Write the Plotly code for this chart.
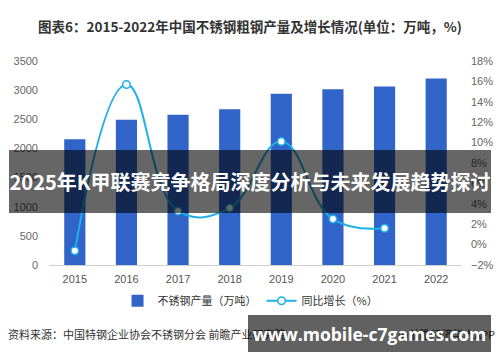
import plotly.graph_objects as go

years = ["2015", "2016", "2017", "2018", "2019", "2020", "2021", "2022"]
output = [2156, 2494, 2577, 2671, 2940, 3014, 3063, 3198]
growth_years = ["2015", "2016", "2017", "2018", "2019", "2020", "2021"]
growth = [-0.6, 15.7, 3.3, 3.6, 10.1, 2.5, 1.6]

title_text = "图表6：2015-2022年中国不锈钢粗钢产量及增长情况(单位：万吨，%)"
source_left = "资料来源：中国特钢企业协会不锈钢分会 前瞻产业研究院"
source_right = "@前瞻经济学人APP"
banner_text = "2025年K甲联赛竞争格局深度分析与未来发展趋势探讨"
url_text = "www.mobile-c7games.com"

CJK = "Noto Sans CJK SC, Liberation Sans, sans-serif"
TICK = "Liberation Sans, Arial, sans-serif"

fig = go.Figure()
fig.add_trace(go.Bar(
    x=years, y=output, name="不锈钢产量（万吨）",
    marker=dict(color="#3164c8", line=dict(width=0)),
    yaxis="y",
))
fig.add_trace(go.Scatter(
    x=growth_years, y=growth, name="同比增长（%）",
    mode="lines+markers",
    line=dict(color="#1eb0e6", width=2, shape="spline", smoothing=1.2),
    marker=dict(size=7.5, color="white", line=dict(color="#1eb0e6", width=1.5)),
    yaxis="y2",
))

fig.update_layout(
    width=500, height=362,
    margin=dict(l=49, r=38, t=61, b=97, autoexpand=False),
    paper_bgcolor="white", plot_bgcolor="white",
    bargap=0.59,
    showlegend=True,
    title=dict(text="<b>" + title_text + "</b>", x=0.5, xanchor="center",
               y=1 - 27 / 362, yanchor="middle",
               font=dict(family=CJK, size=13.5, color="#333333")),
    xaxis=dict(
        type="category", showgrid=False, zeroline=False,
        showline=True, linecolor="#d0d0d0", linewidth=1,
        ticks="", tickfont=dict(family=TICK, size=11, color="#555555"),
        ticklabelstandoff=4,
    ),
    yaxis=dict(
        range=[0, 3500], dtick=500, showgrid=False, zeroline=False,
        showline=False, ticks="",
        tickfont=dict(family=TICK, size=11, color="#666666"),
        ticklabelstandoff=10,
    ),
    yaxis2=dict(
        range=[-2, 18], dtick=2, ticksuffix="%", overlaying="y", side="right",
        showgrid=False, zeroline=False, showline=False, ticks="",
        tickfont=dict(family=TICK, size=11, color="#666666"),
        ticklabelstandoff=8,
    ),
    legend=dict(
        orientation="h", x=0.488, xanchor="center", y=-0.175, yanchor="middle",
        font=dict(family=CJK, size=11, color="#333333"),
        bgcolor="rgba(0,0,0,0)", itemwidth=30,
    ),
)

fig.add_annotation(
    text=source_left, xref="paper", yref="paper",
    x=-43 / 413, xanchor="left", y=(265 - 334) / 204, yanchor="middle",
    showarrow=False, font=dict(family=CJK, size=11, color="#333333"),
)
fig.add_annotation(
    text=source_right, xref="paper", yref="paper",
    x=(497 - 49) / 413, xanchor="right", y=(265 - 334) / 204, yanchor="middle",
    showarrow=False, font=dict(family=CJK, size=11, color="#333333"),
)
# overlay banner
fig.add_annotation(
    text="<b>" + banner_text + "</b>", xref="paper", yref="paper",
    x=(250 - 49) / 413, xanchor="center", y=(265 - 181.5) / 204, yanchor="middle",
    showarrow=False, width=482, height=63, bgcolor="rgba(0,0,0,0.6)",
    borderpad=0, borderwidth=0,
    font=dict(family=CJK, size=20, color="white"),
)
# overlay url box
fig.add_annotation(
    text="<b>" + url_text + "</b>", xref="paper", yref="paper",
    x=(369.5 - 49) / 413, xanchor="center", y=(265 - 333) / 204, yanchor="middle",
    showarrow=False, width=243, height=37, bgcolor="rgba(0,0,0,0.62)",
    borderpad=0, borderwidth=0,
    font=dict(family="Open Sans, DejaVu Sans, sans-serif", size=17.5, color="white"),
)

fig.write_html(
    "out.html",
    config={"displayModeBar": False},
    post_script="document.body.style.margin='0';document.body.style.padding='0';",
)
